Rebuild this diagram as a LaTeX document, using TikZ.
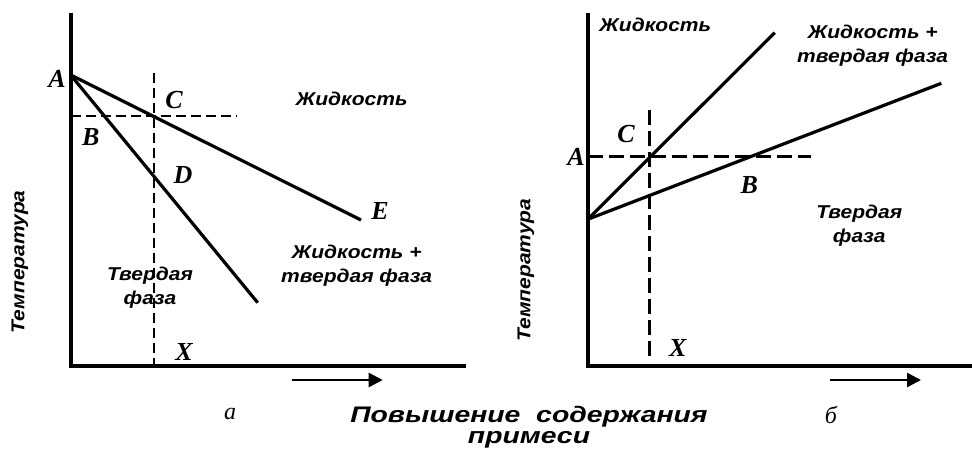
\documentclass[tikz,border=0pt]{standalone}
\usepackage{fontspec}
\setmainfont{Liberation Serif}
\newfontfamily\labelsans[FakeStretch=1.13]{Liberation Sans}
\newfontfamily\titlesans[FakeStretch=1.26]{Liberation Sans}
\usetikzlibrary{arrows.meta,positioning}

\tikzset{
  axisline/.style={line width=4pt,line join=miter},
  phaseline/.style={line width=3.2pt},
  guideline/.style={line width=2.8pt,dash pattern=on 10pt off 5pt},
  longguide/.style={line width=2.8pt,dash pattern=on 15pt off 6pt},
  ptlabel/.style={font=\bfseries\itshape\fontsize{26}{26}\selectfont,inner sep=0pt},
  region/.style={font=\labelsans\bfseries\itshape\fontsize{18.6}{24}\selectfont,align=center,inner sep=0pt},
  subcap/.style={font=\itshape\fontsize{24}{24}\selectfont,inner sep=0pt},
  dirarrow/.style={line width=2.6pt,-{Triangle[length=14pt,width=14pt]}}
}

\begin{document}
\begin{tikzpicture}[x=1pt,y=-1pt,>=Latex]
  \useasboundingbox (0,0) rectangle (972,451);

  % panel a
  \coordinate (aTop) at (70.7,13);
  \coordinate (aO) at (70.7,366);
  \coordinate (aEnd) at (466,366);
  \coordinate (aA) at (70.7,75);
  \coordinate (aE) at (361,220);
  \coordinate (aF) at (257.7,302.7);
  \coordinate (aH1) at (70.7,116);
  \coordinate (aH2) at (236.7,116);
  \coordinate (aV1) at (154,72.7);
  \coordinate (aV2) at (154,366);
  \draw[axisline] (aTop) -- (aO) -- (aEnd);
  \draw[phaseline] (aA) -- (aE);
  \draw[phaseline] (aA) -- (aF);
  \draw[guideline] (aH1) -- (aH2);
  \draw[guideline] (aV1) -- (aV2);
  \node[ptlabel] (aLabA) at (57,79) {A};
  \node[ptlabel] (aLabC) at (174,100) {C};
  \node[ptlabel] (aLabB) at (90.7,136.7) {B};
  \node[ptlabel] (aLabD) at (183,175) {D};
  \node[ptlabel] (aLabE) at (380,211) {E};
  \node[ptlabel] (aLabX) at (184,352) {X};
  \node[region] (aLiq) at (351.7,99.3) {Жидкость};
  \node[region] (aMix) at (356.7,266) {Жидкость +\\твердая фаза};
  \node[region] (aSol) at (150,287.5) {Твердая\\фаза};
  \node[region,rotate=90] (aTemp) at (20,261.7) {Температура};
  \coordinate (aArr1) at (292,380);
  \coordinate (aArr2) at (382.7,380);
  \draw[dirarrow] (aArr1) -- (aArr2);
  \node[subcap] (aCap) at (230,414) {а};

  % panel b
  \coordinate (bTop) at (587.7,13);
  \coordinate (bO) at (587.7,366);
  \coordinate (bEnd) at (972,366);
  \coordinate (bP) at (587.7,219.3);
  \coordinate (bS) at (774.7,32.7);
  \coordinate (bL) at (941.3,83.3);
  \coordinate (bH1) at (587.7,156.7);
  \coordinate (bH2) at (811,156.7);
  \coordinate (bV1) at (649.3,110);
  \coordinate (bV2) at (649.3,358);
  \draw[axisline] (bTop) -- (bO) -- (bEnd);
  \draw[phaseline] (bP) -- (bS);
  \draw[phaseline] (bP) -- (bL);
  \draw[longguide] (bH1) -- (bH2);
  \draw[longguide] (bV1) -- (bV2);
  \node[ptlabel] (bLabC) at (626,134) {C};
  \node[ptlabel] (bLabA) at (576,156.7) {A};
  \node[ptlabel] (bLabB) at (749.3,185) {B};
  \node[ptlabel] (bLabX) at (677.7,348.3) {X};
  \node[region] (bLiq) at (655.3,25) {Жидкость};
  \node[region] (bMix) at (872.7,45.8) {Жидкость +\\твердая фаза};
  \node[region] (bSol) at (859.3,226) {Твердая\\фаза};
  \node[region,rotate=90] (bTemp) at (526,270) {Температура};
  \coordinate (bArr1) at (830.3,380);
  \coordinate (bArr2) at (921,380);
  \draw[dirarrow] (bArr1) -- (bArr2);
  \node[subcap] (bCap) at (831,415) {б};

  % common axis caption
  \node[region,font=\titlesans\bfseries\itshape\fontsize{22.5}{21}\selectfont] (xCap) at (529,427)
    {Повышение\ \ содержания\\примеси};
\end{tikzpicture}
\end{document}
